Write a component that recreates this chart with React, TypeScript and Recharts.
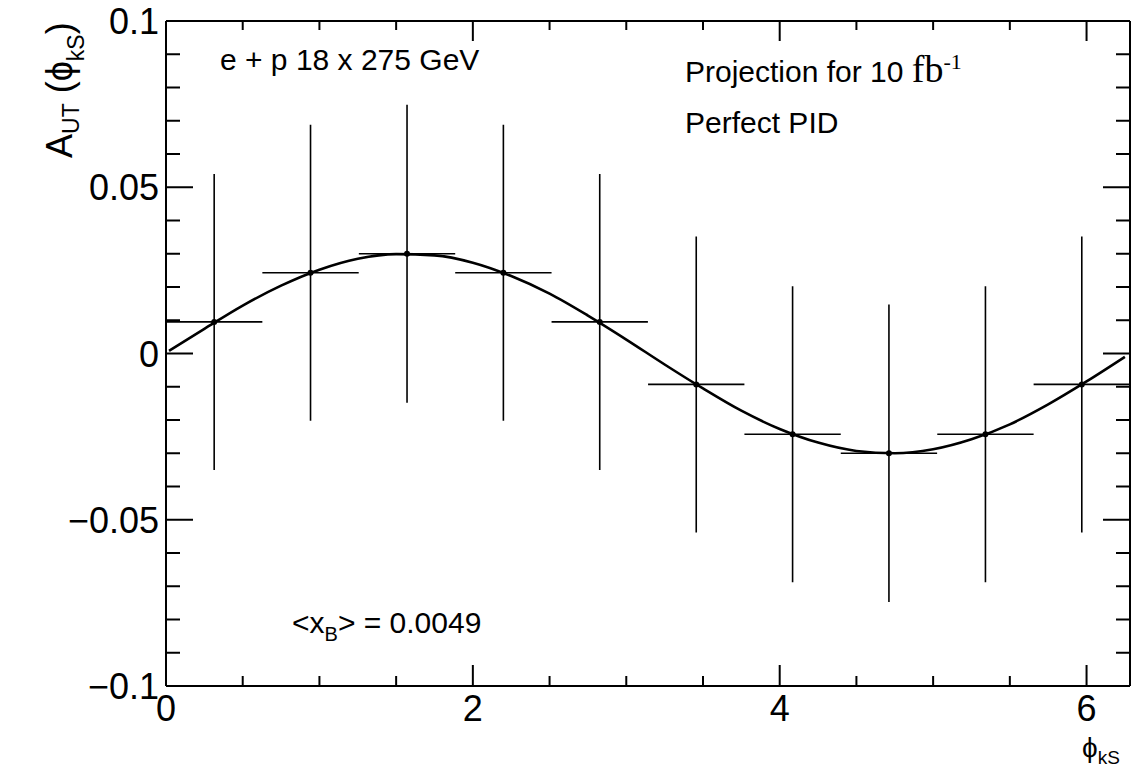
import React from "react";
import {
  ScatterChart,
  Scatter,
  XAxis,
  YAxis,
  ErrorBar,
} from "recharts";

// binned asymmetry points
const binCenters = [0.314, 0.942, 1.571, 2.199, 2.827, 3.456, 4.084, 4.712, 5.341, 5.969];
const asymmetry = [0.0095, 0.0243, 0.03, 0.0243, 0.0095, -0.0093, -0.0243, -0.03, -0.0243, -0.0093];
const statError = [0.0445, 0.0445, 0.0448, 0.0445, 0.0445, 0.0445, 0.0445, 0.0447, 0.0445, 0.0445];
const binHalfWidth = [0.314, 0.314, 0.314, 0.314, 0.314, 0.314, 0.314, 0.314, 0.314, 0.314];

// fitted curve
const curveX = [
  0.02, 0.25, 0.5, 0.75, 1.0, 1.25, 1.5, 1.75, 2.0, 2.25, 2.5, 2.75, 3.0,
  3.25, 3.5, 3.75, 4.0, 4.25, 4.5, 4.75, 5.0, 5.25, 5.5, 5.75, 6.0, 6.25,
];
const curveY = [
  0.0008, 0.0074, 0.0144, 0.0204, 0.0252, 0.0285, 0.0299, 0.0295, 0.0273,
  0.0233, 0.018, 0.0114, 0.0042, -0.0033, -0.0105, -0.0172, -0.0227, -0.0268,
  -0.0293, -0.03, -0.0288, -0.0258, -0.0213, -0.0153, -0.0084, -0.001,
];

// axis ticks
const xTicks = [0, 0.5, 1, 1.5, 2, 2.5, 3, 3.5, 4, 4.5, 5, 5.5, 6];
const xMajor = [0, 2, 4, 6];
const yTicks = [
  -0.1, -0.09, -0.08, -0.07, -0.06, -0.05, -0.04, -0.03, -0.02, -0.01, 0,
  0.01, 0.02, 0.03, 0.04, 0.05, 0.06, 0.07, 0.08, 0.09, 0.1,
];
const yMajor = [-0.1, -0.05, 0, 0.05, 0.1];

const X_MAX = 6.2832;
const SANS = "'Liberation Sans', Arial, Helvetica, sans-serif";
const SERIF = "'Liberation Serif', 'Times New Roman', serif";

const points = binCenters.map((x, i) => ({
  x,
  y: asymmetry[i],
  ey: statError[i],
  ex: binHalfWidth[i],
}));

const curve = curveX.map((x, i) => ({ x, y: curveY[i] }));

const fmtY = (v: number) => {
  if (v === 0) return "0";
  return v < 0 ? "\u2212" + String(Math.abs(v)) : String(v);
};

// axes are 1px thick boxes, so tick props sit on the frame itself
const BottomTick = (props: any) => {
  const { x, y, payload } = props;
  const major = xMajor.includes(payload.value);
  return (
    <g>
      <line x1={x} x2={x} y1={y} y2={y - (major ? 21 : 10)} stroke="#000" strokeWidth={2} />
      {major && (
        <text x={x} y={y + 35} textAnchor="middle" fontSize={36} fontFamily={SANS} fill="#000">
          {payload.value}
        </text>
      )}
    </g>
  );
};

const TopTick = (props: any) => {
  const { x, y, payload } = props;
  const major = xMajor.includes(payload.value);
  return <line x1={x} x2={x} y1={y} y2={y + (major ? 20 : 9)} stroke="#000" strokeWidth={2} />;
};

const LeftTick = (props: any) => {
  const { x, y, payload } = props;
  const major = yMajor.includes(payload.value);
  return (
    <g>
      <line x1={x} x2={x + (major ? 27 : 14)} y1={y} y2={y} stroke="#000" strokeWidth={2} />
      {major && (
        <text x={x - 7} y={y + 13} textAnchor="end" fontSize={36} fontFamily={SANS} fill="#000">
          {fmtY(payload.value)}
        </text>
      )}
    </g>
  );
};

const RightTick = (props: any) => {
  const { x, y, payload } = props;
  const major = yMajor.includes(payload.value);
  return <line x1={x} x2={x - (major ? 27 : 14)} y1={y} y2={y} stroke="#000" strokeWidth={2} />;
};

const Dot = (props: any) => <circle cx={props.cx} cy={props.cy} r={3} fill="#000" />;
const NoShape = () => <g />;

const frame = { stroke: "#000", strokeWidth: 2 };

export default function App() {
  return (
    <div style={{ position: "absolute", left: 0, top: 0, width: 1138, height: 767, background: "#fff" }}>
      <ScatterChart
        width={1138}
        height={767}
        margin={{ top: 20, right: 7, bottom: 80, left: 165 }}
      >
        <XAxis
          xAxisId="b"
          type="number"
          dataKey="x"
          orientation="bottom"
          domain={[0, X_MAX]}
          allowDataOverflow
          ticks={xTicks}
          interval={0}
          height={1}
          tickSize={0}
          tickMargin={0}
          tickLine={false}
          axisLine={frame}
          tick={<BottomTick />}
        />
        <XAxis
          xAxisId="t"
          type="number"
          dataKey="x"
          orientation="top"
          domain={[0, X_MAX]}
          allowDataOverflow
          ticks={xTicks}
          interval={0}
          height={1}
          tickSize={0}
          tickMargin={0}
          tickLine={false}
          axisLine={frame}
          tick={<TopTick />}
        />
        <YAxis
          yAxisId="l"
          type="number"
          dataKey="y"
          orientation="left"
          domain={[-0.1, 0.1]}
          allowDataOverflow
          ticks={yTicks}
          interval={0}
          width={1}
          tickSize={0}
          tickMargin={0}
          tickLine={false}
          axisLine={frame}
          tick={<LeftTick />}
        />
        <YAxis
          yAxisId="r"
          type="number"
          dataKey="y"
          orientation="right"
          domain={[-0.1, 0.1]}
          allowDataOverflow
          ticks={yTicks}
          interval={0}
          width={1}
          tickSize={0}
          tickMargin={0}
          tickLine={false}
          axisLine={frame}
          tick={<RightTick />}
        />

        {/* keeps the mirrored top/right axes attached to data */}
        <Scatter
          xAxisId="t"
          yAxisId="r"
          data={points}
          shape={<NoShape />}
          isAnimationActive={false}
        />

        <Scatter
          xAxisId="b"
          yAxisId="l"
          data={curve}
          shape={<NoShape />}
          line={{ stroke: "#000", strokeWidth: 2.6 }}
          lineJointType="monotoneX"
          fill="#000"
          isAnimationActive={false}
        />

        <Scatter
          xAxisId="b"
          yAxisId="l"
          data={points}
          shape={<Dot />}
          fill="#000"
          isAnimationActive={false}
        >
          <ErrorBar dataKey="ey" direction="y" width={0} stroke="#000" strokeWidth={1.6} />
          <ErrorBar dataKey="ex" direction="x" width={0} stroke="#000" strokeWidth={1.6} />
        </Scatter>
      </ScatterChart>

      <svg
        width={1138}
        height={767}
        style={{ position: "absolute", left: 0, top: 0, pointerEvents: "none" }}
      >
        <g fontFamily={SANS} fill="#000">
          <text x={220} y={70} fontSize={30}>e + p 18 x 275 GeV</text>
          <text x={685} y={82} fontSize={30}>
            Projection for 10{" "}
            <tspan fontFamily={SERIF} fontSize={38}>fb</tspan>
            <tspan fontFamily={SERIF} fontSize={22} dy={-13}>-1</tspan>
          </text>
          <text x={685} y={133} fontSize={30}>Perfect PID</text>
          <text x={292} y={633} fontSize={30}>
            {"<x"}
            <tspan fontSize={20} dy={8}>B</tspan>
            <tspan dy={-8}>{"> = 0.0049"}</tspan>
          </text>

          <text transform="translate(72,158) rotate(-90)" fontSize={36}>
            A
            <tspan fontSize={23} dy={7}>UT</tspan>
            <tspan dy={-7}>{" (\u03d5"}</tspan>
            <tspan fontSize={23} dy={12}>kS</tspan>
            <tspan dy={-12}>)</tspan>
          </text>

          <text x={1082} y={757} fontSize={28}>
            {"\u03d5"}
            <tspan fontSize={19} dy={7}>kS</tspan>
          </text>
        </g>
      </svg>
    </div>
  );
}
